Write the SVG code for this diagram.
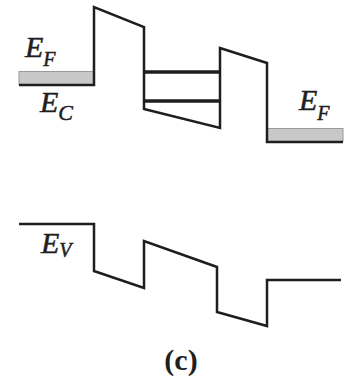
<svg xmlns="http://www.w3.org/2000/svg" width="360" height="382" viewBox="0 0 360 382">
<style>
.ln{fill:none;stroke:#1e1e1e;stroke-width:2.5;stroke-linejoin:miter;stroke-linecap:butt}
.well{stroke:#1e1e1e;stroke-width:3.5}
.band{fill:#c8c8c8;stroke:#9a9a9a;stroke-width:1}
.lbl{font-family:"Liberation Serif",serif;font-style:italic;fill:#1e1e1e;stroke:#1e1e1e;stroke-width:0.5;font-size:30px}
.sub{font-size:20px}
.cap{font-family:"Liberation Serif",serif;font-weight:bold;fill:#1e1e1e;font-size:30px}
</style>
<rect width="360" height="382" fill="#ffffff"/>
<g id="bands">
<rect class="band" x="19" y="71.5" width="75" height="13"/>
<rect class="band" x="267" y="128.5" width="76" height="13"/>
</g>
<g id="connectors">
<path id="conduction-band" class="ln" d="M19,85 H94 V7 L144,27 V109 L220,128 V48 L267,63 V142 H343"/>
<path id="valence-band" class="ln" d="M19,224 H94 V271 L144,288 V241 L217,267 V312 L267,326 V280 H341"/>
<line id="well-level-1" class="well" x1="144" y1="72" x2="220" y2="72"/>
<line id="well-level-2" class="well" x1="144" y1="101" x2="220" y2="101"/>
</g>
<g id="label-EF-left"><text class="lbl" x="25" y="57">E<tspan class="sub" dy="9">F</tspan></text></g>
<g id="label-EC"><text class="lbl" x="40" y="112">E<tspan class="sub" dy="8" style="font-size:22px">C</tspan></text></g>
<g id="label-EF-right"><text class="lbl" x="299" y="110">E<tspan class="sub" dy="10">F</tspan></text></g>
<g id="label-EV"><text class="lbl" x="41" y="253">E<tspan class="sub" dy="4">V</tspan></text></g>
<g id="caption"><text class="cap" x="181" y="370" text-anchor="middle">(c)</text></g>
</svg>
